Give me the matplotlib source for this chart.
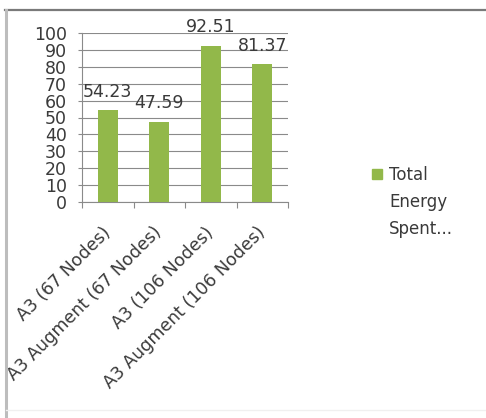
import matplotlib
matplotlib.use("Agg")
import matplotlib.pyplot as plt
from matplotlib.patches import Rectangle
from matplotlib.lines import Line2D
import numpy as np

categories = ["A3 (67 Nodes)", "A3 Augment (67 Nodes)",
              "A3 (106 Nodes)", "A3 Augment (106 Nodes)"]
energy = [54.23, 47.59, 92.51, 81.37]
value_labels = ["54.23", "47.59", "92.51", "81.37"]
yticks = list(range(0, 101, 10))
legend_lines = ["Total", "Energy", "Spent..."]

green = "#92B84A"
grid_gray = "#8A8A8A"
text_col = "#3A3A3A"

plt.rcParams["font.family"] = ["DejaVu Sans"]

fig = plt.figure(figsize=(4.86, 4.18), dpi=100)
ax = fig.add_axes([82 / 486, 1 - 202 / 418, 206 / 486, 169 / 418])

x = np.arange(len(categories))
ax.bar(x, energy, width=0.39, color=green, zorder=3)

for xi, v, lab in zip(x, energy, value_labels):
    ax.annotate(lab, (xi, v), xytext=(0, 7), textcoords="offset points",
                ha="center", va="bottom", fontsize=12.5, color=text_col)

ax.set_xlim(-0.5, len(categories) - 0.5)
ax.set_ylim(0, 100)
ax.set_yticks(yticks)
ax.set_yticklabels([str(t) for t in yticks], fontsize=12.5, color=text_col)
ax.tick_params(axis="y", length=3, width=0.8, color=grid_gray, pad=8)

# category labels at bar centres, tick marks between categories
ax.set_xticks(x)
ax.set_xticklabels(categories, rotation=45, ha="right", va="center",
                   rotation_mode="anchor", fontsize=12.5, color=text_col)
ax.set_xticks(np.arange(-0.5, len(categories)), minor=True)
ax.tick_params(axis="x", which="major", length=0, pad=20)
ax.tick_params(axis="x", which="minor", length=4, width=0.8, color=grid_gray)

ax.yaxis.grid(True, color=grid_gray, linewidth=0.8, zorder=0)
ax.set_axisbelow(True)
for side in ("top", "right"):
    ax.spines[side].set_visible(False)
for side in ("left", "bottom"):
    ax.spines[side].set_color(grid_gray)
    ax.spines[side].set_linewidth(0.8)

# legend: square swatch beside three wrapped lines
fig.patches.append(Rectangle((372 / 486, 1 - 179 / 418), 10 / 486, 10 / 418,
                             transform=fig.transFigure, color=green))
for i, line in enumerate(legend_lines):
    fig.text(389 / 486, 1 - (175 + 27 * i) / 418, line, fontsize=12,
             color=text_col, va="center", ha="left")

# chart frame edges
fig.add_artist(Line2D([5 / 486, 1], [1 - 9.5 / 418] * 2, transform=fig.transFigure,
                      color="#7A7A7A", linewidth=1.6))
fig.add_artist(Line2D([6 / 486] * 2, [0, 1 - 9.5 / 418], transform=fig.transFigure,
                      color="#BDBDBD", linewidth=2.2))
fig.add_artist(Line2D([6 / 486, 1], [1 - 410 / 418] * 2, transform=fig.transFigure,
                      color="#F0F0F0", linewidth=1.0))

fig.savefig("out.png", dpi=100)
